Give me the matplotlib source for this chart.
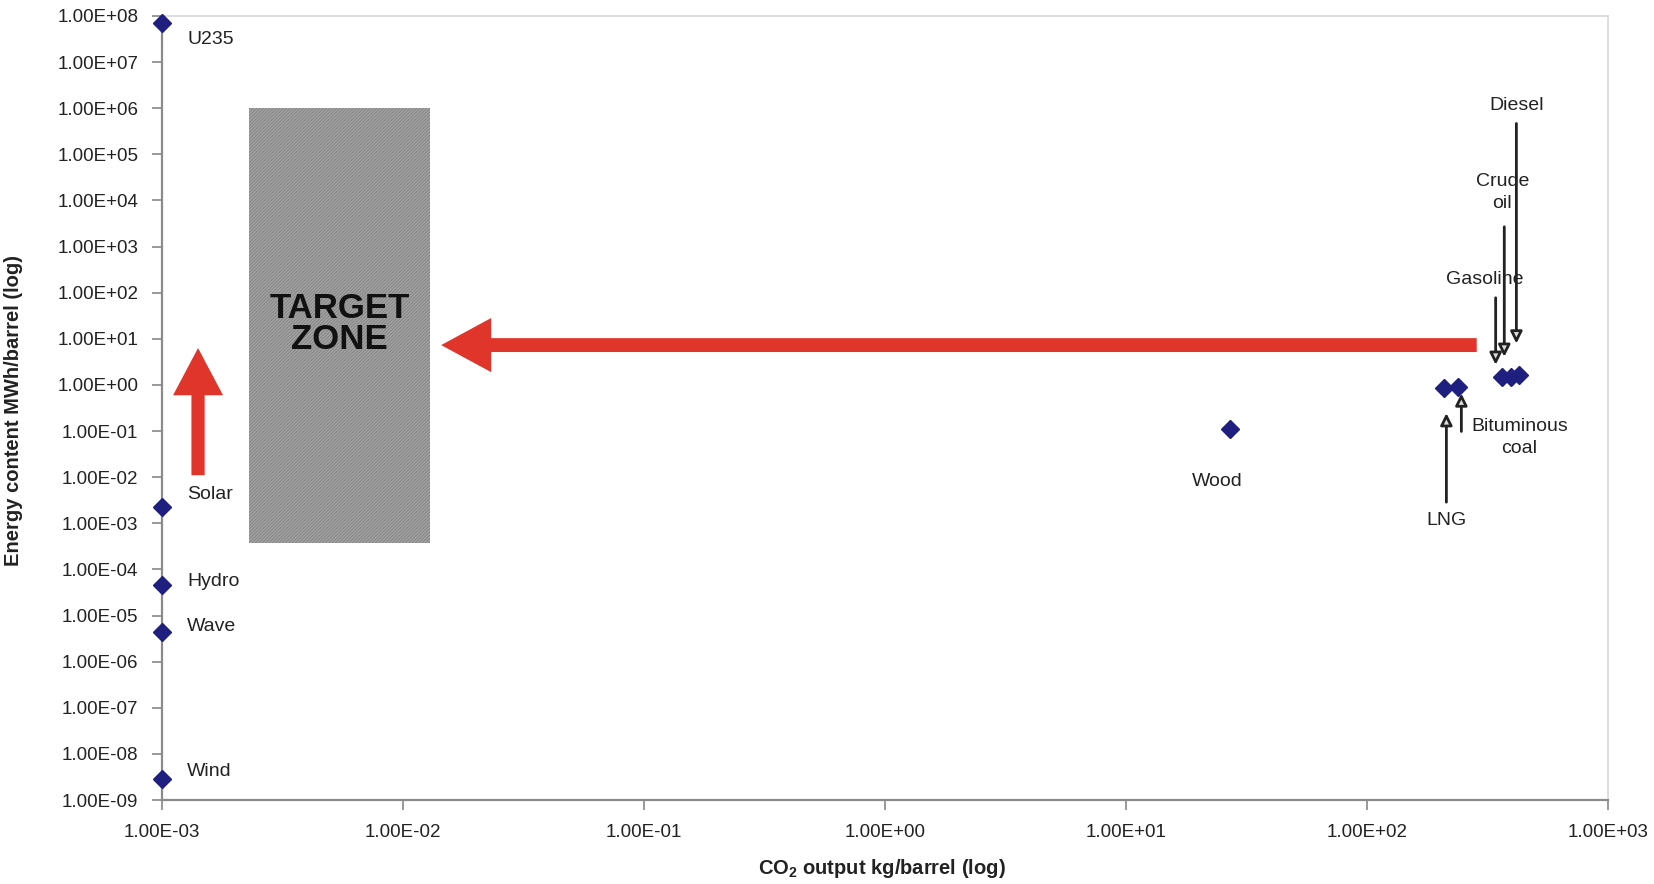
import numpy as np
import matplotlib
matplotlib.use("Agg")
import matplotlib.pyplot as plt
from matplotlib.patches import Rectangle, FancyArrowPatch
from matplotlib.transforms import offset_copy

plt.rcParams['font.family'] = ['Liberation Sans', 'DejaVu Sans']
plt.rcParams['mathtext.fontset'] = 'custom'
plt.rcParams['mathtext.rm'] = 'Liberation Sans'
plt.rcParams['mathtext.bf'] = 'Liberation Sans:bold'
plt.rcParams['hatch.linewidth'] = 1.2

# DATA
fuels = ['U235', 'Solar', 'Hydro', 'Wave', 'Wind', 'Wood', 'LNG',
         'Bituminous\ncoal', 'Gasoline', 'Crude\noil', 'Diesel']
co2_output = [1e-3, 1e-3, 1e-3, 1e-3, 1e-3, 27, 210, 240, 363, 398, 430]
energy_content = [7e7, 2.3e-3, 4.6e-5, 4.4e-6, 2.8e-9, 0.11, 0.85, 0.88, 1.5, 1.5, 1.6]

xticks = [1e-3, 1e-2, 1e-1, 1e0, 1e1, 1e2, 1e3]
yticks = [10.0 ** p for p in range(-9, 9)]

# target zone bounds (x0, x1, y0, y1)
zone = (2.3e-3, 1.3e-2, 3.7e-4, 1e6)

# label placement, offsets in pixels from the point: text offset, align, (arrow start, arrow end)
label_pos = {
    'U235': ((25, -16), 'left', None),
    'Solar': ((25, 12), 'left', None),
    'Hydro': ((25, 3), 'left', None),
    'Wave': ((25, 5), 'left', None),
    'Wind': ((25, 8), 'left', None),
    'Wood': ((-12, -52), 'center', None),
    'LNG': ((2, -132), 'center', ((2, -114), (2, -25))),
    'Bituminous\ncoal': ((61, -50), 'center', ((3, -44), (3, -6))),
    'Gasoline': ((-17, 97), 'center', ((-6, 79), (-6, 12))),
    'Crude\noil': ((-9, 184), 'center', ((-7, 150), (-7, 20))),
    'Diesel': ((-3, 270), 'center', ((-3, 252), (-3, 32))),
}

fig = plt.figure(figsize=(16.54, 8.84), dpi=100)
ax = fig.add_axes([0.098, 0.095, 0.874, 0.887])
ax.set_xscale('log')
ax.set_yscale('log')
ax.set_xlim(1e-3, 1e3)
ax.set_ylim(1e-9, 1e8)

# target zone
ax.add_patch(Rectangle((zone[0], zone[2]), zone[1] - zone[0], zone[3] - zone[2],
                       facecolor='#7a7a7a', lw=0, zorder=1))
ax.add_patch(Rectangle((zone[0], zone[2]), zone[1] - zone[0], zone[3] - zone[2],
                       fill=False, edgecolor='#a2a2a2', hatch='/' * 10, lw=0, zorder=1))
ax.text(np.sqrt(zone[0] * zone[1]), 21, 'TARGET\nZONE', ha='center', va='center',
        fontsize=25, fontweight='bold', color='#111111', linespacing=0.95, zorder=2)

red = '#e0352a'
ax.add_patch(FancyArrowPatch((286, 7.3), (0.0144, 7.3), transform=ax.transData,
                             arrowstyle='simple,head_length=36,head_width=39,tail_width=10',
                             mutation_scale=1, color=red, shrinkA=0, shrinkB=0, lw=0, zorder=3))
ax.add_patch(FancyArrowPatch((1.41e-3, 0.011), (1.41e-3, 6.3), transform=ax.transData,
                             arrowstyle='simple,head_length=34,head_width=36,tail_width=9.5',
                             mutation_scale=1, color=red, shrinkA=0, shrinkB=0, lw=0, zorder=3))

ax.plot(co2_output, energy_content, ls='none', marker='D', ms=9.5,
        color='#1f1f7f', clip_on=False, zorder=5)

for name, x, y in zip(fuels, co2_output, energy_content):
    toff, ha, arr = label_pos[name]
    ax.annotate(name, (x, y), xytext=toff, textcoords='offset pixels',
                ha=ha, va='center', fontsize=14, color='#222222', linespacing=1.4, zorder=6)
    if arr is not None:
        (sx, sy), (ex, ey) = arr
        tail = offset_copy(ax.transData, fig=fig, x=sx, y=sy, units='dots').transform((x, y))
        tip = offset_copy(ax.transData, fig=fig, x=ex, y=ey, units='dots').transform((x, y))
        ax.add_patch(FancyArrowPatch(tail, tip, transform=None,
                                     arrowstyle='-|>,head_length=7,head_width=3.5',
                                     mutation_scale=1, lw=2, ec='#222222', fc='#dddddd',
                                     shrinkA=0, shrinkB=0, zorder=4))

ax.set_xticks(xticks)
ax.set_yticks(yticks)
ax.set_xticklabels(['{:.2E}'.format(v) for v in xticks])
ax.set_yticklabels(['{:.2E}'.format(v) for v in yticks])
ax.minorticks_off()
ax.tick_params(axis='both', length=7, width=1.2, color='#888888', labelsize=13.5,
               labelcolor='#222222')
ax.tick_params(axis='y', pad=10)
ax.tick_params(axis='x', pad=10)

for s in ['left', 'bottom']:
    ax.spines[s].set_color('#8a8a8a')
    ax.spines[s].set_linewidth(1.6)
for s in ['top', 'right']:
    ax.spines[s].set_color('#d8d8d8')
    ax.spines[s].set_linewidth(1.2)

ax.set_xlabel(r'CO$_\mathbf{2}$ output kg/barrel (log)', fontsize=14.5, fontweight='bold',
              color='#222222')
ax.set_ylabel('Energy content MWh/barrel (log)', fontsize=14.5, fontweight='bold',
              color='#222222')
ax.xaxis.set_label_coords(0.498, -0.073)
ax.yaxis.set_label_coords(-0.096, 0.497)

fig.savefig('out.png', dpi=100)
